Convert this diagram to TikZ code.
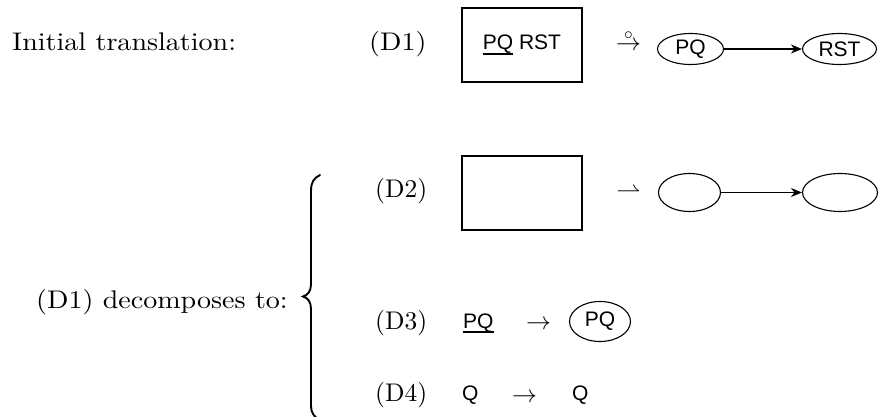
\documentclass[tikz,border=0pt]{standalone}
\usepackage{fontspec}
\usepackage{graphicx}
\setmainfont{lmroman10-regular.otf}
\setsansfont{Liberation Sans}
\usetikzlibrary{shapes.geometric,arrows.meta}

% wide serif used for the running labels on the left
\newcommand\wideroman[1]{\scalebox{1.1}[1]{#1}}
% thick underline under a piece of sans text
\newcommand\barunder[1]{\setbox0\hbox{#1}\rlap{\raisebox{-4.9pt}{\rule{\wd0}{1.7pt}}}\box0\relax}

\begin{document}
\begin{tikzpicture}[x=1pt,y=-1pt,
  roman/.style={font=\fontsize{25.5}{30}\selectfont, inner sep=0pt},
  sans/.style={font=\sffamily\fontsize{21}{25}\selectfont, inner sep=0pt},
  frame/.style={draw, line width=2pt, minimum width=120pt, minimum height=74pt, inner sep=0pt,
                font=\sffamily\fontsize{21}{25}\selectfont},
  oval/.style={ellipse, draw, line width=1.1pt, inner sep=0pt,
               font=\sffamily\fontsize{21}{25}\selectfont},
  link/.style={-{Stealth[length=11pt,width=9pt,inset=3.5pt]}, line width=1.1pt},
  bracket/.style={line width=1.9pt, line cap=round}
]
\useasboundingbox (0,0) rectangle (879,417);

% left column
\node[roman, anchor=base west] (init) at (12,51) {\wideroman{Initial translation:}};
\node[roman, anchor=base west] (decomp) at (36,308) {\wideroman{(D1) decomposes to:}};

% curly bracket grouping D2--D4
\draw[bracket] (320,175) .. controls (314,178) and (311,182) .. (311,191)
  -- (311,284) .. controls (311,291) and (308,295) .. (303,296.5)
  .. controls (308,298) and (311,302) .. (311,309)
  -- (311,406) .. controls (311,413) and (314,416) .. (319,420);

% row D1
\node[roman, anchor=base west] (d1) at (369,51) {\wideroman{(D1)}};
\node[frame] (box1) at (522,45) {\barunder{PQ} RST};
\node[roman, anchor=base] (map1) at (628.5,51) {$\stackrel{\circ}{\rightarrow}$};
\node[oval, minimum width=66pt, minimum height=31pt] (pq1) at (690.5,49) {PQ};
\node[oval, minimum width=74pt, minimum height=31pt] (rst1) at (839.5,49) {RST};
\draw[link] (pq1) -- (rst1);

% row D2
\node[roman, anchor=base west] (d2) at (375,198) {(D2)};
\node[frame] (box2) at (522,193) {};
\node[roman, anchor=base] (map2) at (628.5,198) {$\rightharpoonup$};
\node[oval, minimum width=62pt, minimum height=38pt] (e2a) at (689.5,192.5) {};
\node[oval, minimum width=75pt, minimum height=38pt] (e2b) at (840,192.5) {};
\draw[link] (e2a) -- (e2b);

% row D3
\node[roman, anchor=base west] (d3) at (375,329) {(D3)};
\node[sans, anchor=base west] (src3) at (463,328) {\barunder{PQ}};
\node[roman, anchor=base] (map3) at (538.5,329) {$\rightarrow$};
\node[oval, minimum width=61pt, minimum height=40pt] (pq3) at (600,321.5) {PQ};

% row D4
\node[roman, anchor=base west] (d4) at (375,401) {(D4)};
\node[sans, anchor=base west] (src4) at (462,400) {Q};
\node[roman, anchor=base] (map4) at (524.5,402) {$\rightarrow$};
\node[sans, anchor=base west] (dst4) at (572,400) {Q};
\end{tikzpicture}
\end{document}
